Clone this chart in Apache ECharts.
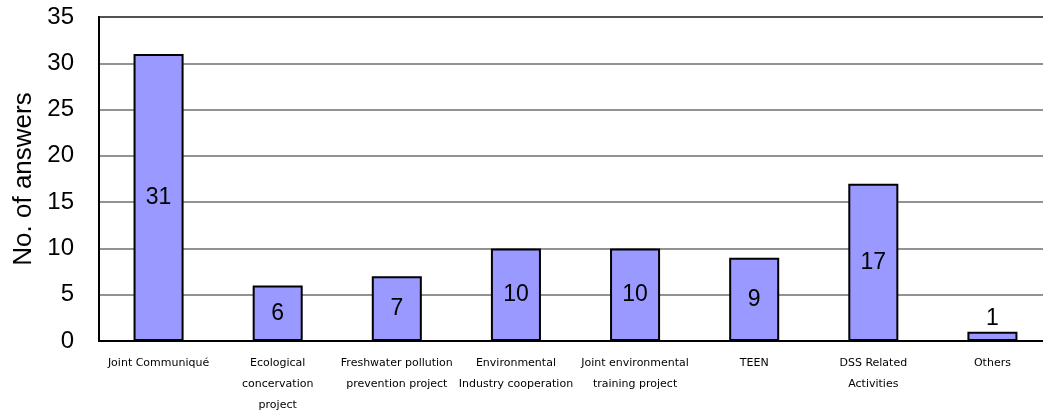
<!DOCTYPE html>
<html><head><meta charset="utf-8">
<script src="https://cdn.jsdelivr.net/npm/echarts@6/dist/echarts.min.js"></script>
<style>html,body{margin:0;padding:0;background:#fff}#c{width:1043px;height:414px}</style>
</head><body><div id="c"></div>
<script>
const categories = ["Joint Communiqué", "Ecological\nconcervation\nproject", "Freshwater pollution\nprevention project", "Environmental\nIndustry cooperation", "Joint environmental\ntraining project", "TEEN", "DSS Related\nActivities", "Others"];
const values = [31, 6, 7, 10, 10, 9, 17, 1];
const yTicks = [0, 5, 10, 15, 20, 25, 30, 35];

const chart = echarts.init(document.getElementById('c'));
chart.setOption({
  animation: false,
  grid: { left: 99, top: 17, width: 953, height: 324, outerBoundsMode: 'none', containLabel: false,
          show: true, borderColor: '#000', borderWidth: 2, backgroundColor: 'transparent' },
  xAxis: {
    type: 'category', data: categories,
    axisLine: { lineStyle: { color: '#000', width: 2 } },
    axisTick: { inside: true, length: 5, lineStyle: { color: '#000' } },
    axisLabel: { fontFamily: 'DejaVu Sans', fontSize: 11, color: '#000', lineHeight: 21, margin: 12, interval: 0 }
  },
  yAxis: {
    type: 'value', min: yTicks[0], max: yTicks[yTicks.length - 1], interval: 5,
    name: 'No. of answers', nameLocation: 'middle', nameGap: 60, nameRotate: 90,
    nameTextStyle: { fontFamily: 'Liberation Sans', fontSize: 26, color: '#000' },
    axisLine: { show: true, lineStyle: { color: '#000', width: 2 } },
    axisTick: { show: false },
    axisLabel: { fontFamily: 'Liberation Sans', fontSize: 24, color: '#000', margin: 25 },
    splitLine: { lineStyle: { color: '#6e6e6e', width: 1.5 } }
  },
  series: [{
    type: 'bar',
    data: values.map(v => v < 3 ? { value: v, label: { position: 'top', distance: 2 } } : v),
    barWidth: '42%',
    itemStyle: { color: '#9999ff', borderColor: '#000', borderWidth: 2 },
    label: { show: true, position: 'inside', fontFamily: 'Liberation Sans', fontSize: 23, color: '#000' }
  }]
});
</script></body></html>
